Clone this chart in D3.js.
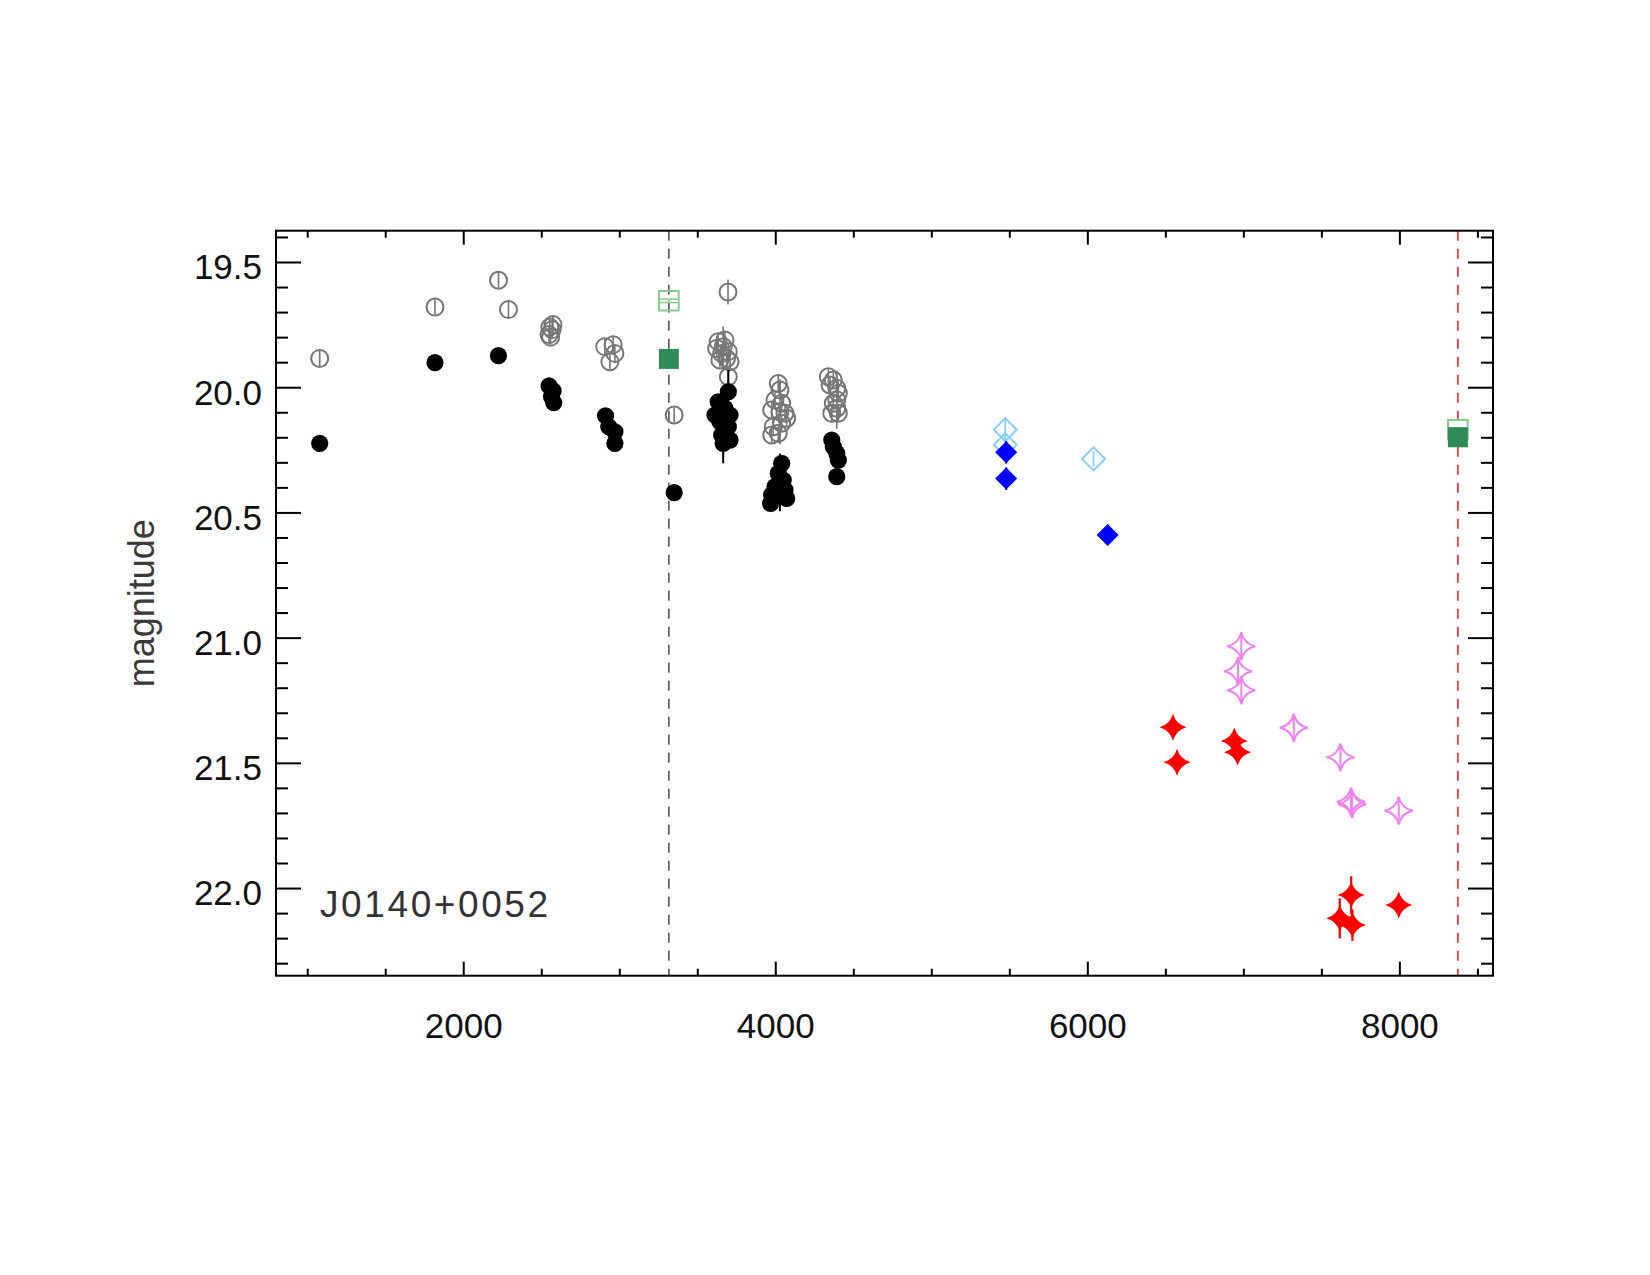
<!DOCTYPE html>
<html>
<head>
<meta charset="utf-8">
<script src="https://cdn.jsdelivr.net/npm/d3@7"></script>
<style>
  html, body { margin: 0; padding: 0; background: #fff; }
  svg text { font-family: "Liberation Sans", Arial, Helvetica, sans-serif; }
</style>
</head>
<body>
<svg id="chart" width="1650" height="1275"></svg>
<script>
// ---------------- DATA ----------------
// each entry: [time, magnitude, error]
const grayOpenCircles = [
  [1080, 19.885, 0.03], [1819, 19.68, 0.03], [2226, 19.573, 0.03], [2290, 19.69, 0.03],
  [2555, 19.76, 0.03], [2575, 19.75, 0.03], [2550, 19.79, 0.03], [2560, 19.80, 0.03], [2570, 19.77, 0.03],
  [2907, 19.838, 0.03], [2961, 19.83, 0.03], [2972, 19.865, 0.03], [2940, 19.898, 0.03],
  [3352, 20.111, 0.03], [3697, 19.62, 0.05],
  [3634, 19.818, 0.03], [3677, 19.811, 0.03], [3624, 19.845, 0.03], [3666, 19.838, 0.08],
  [3656, 19.865, 0.03], [3699, 19.858, 0.03], [3688, 19.885, 0.03], [3645, 19.891, 0.03],
  [3710, 19.898, 0.03], [3699, 19.958, 0.03],
  [4019, 19.985, 0.03], [4030, 20.011, 0.03], [3998, 20.051, 0.03], [4041, 20.064, 0.03],
  [3977, 20.091, 0.03], [4062, 20.104, 0.03], [4030, 20.098, 0.13], [4073, 20.124, 0.03],
  [3987, 20.158, 0.03], [4041, 20.144, 0.03], [3977, 20.191, 0.03], [4019, 20.184, 0.03],
  [4340, 19.958, 0.03], [4372, 19.971, 0.03], [4351, 19.991, 0.03], [4394, 20.004, 0.03],
  [4404, 20.024, 0.03], [4394, 20.05, 0.116], [4372, 20.064, 0.03], [4394, 20.084, 0.03],
  [4362, 20.104, 0.03], [4404, 20.104, 0.03]
];
const blackFilledCircles = [
  [1080, 20.224, 0.02], [1819, 19.902, 0.02], [2226, 19.874, 0.02],
  [2550, 19.995, 0.02], [2576, 20.014, 0.02], [2566, 20.038, 0.02], [2580, 20.062, 0.02],
  [2912, 20.114, 0.02], [2933, 20.158, 0.02], [2972, 20.178, 0.02], [2972, 20.224, 0.02],
  [3352, 20.421, 0.02],
  [3699, 20.018, 0.087], [3634, 20.058, 0.03], [3677, 20.084, 0.03], [3613, 20.111, 0.03],
  [3710, 20.111, 0.03], [3645, 20.138, 0.03], [3699, 20.158, 0.03], [3656, 20.191, 0.03],
  [3710, 20.211, 0.03], [3666, 20.224, 0.08],
  [4041, 20.304, 0.03], [4019, 20.344, 0.03], [4051, 20.371, 0.03], [4030, 20.38, 0.115],
  [3998, 20.397, 0.03], [4062, 20.41, 0.03], [3977, 20.43, 0.03], [4030, 20.437, 0.03],
  [3970, 20.464, 0.03], [4073, 20.444, 0.03],
  [4362, 20.211, 0.03], [4372, 20.238, 0.03], [4394, 20.264, 0.03], [4404, 20.291, 0.03],
  [4394, 20.357, 0.03]
];
const greenOpenSquares = [[3318, 19.655, 0.007], [8375, 20.17, 0.007]];
const greenFilledSquares = [[3318, 19.887, 0.01], [8375, 20.20, 0.01]];
const lightBlueOpenDiamonds = [[5474, 20.17, 0.05], [5474, 20.23, 0.03], [6040, 20.286, 0.03]];
const blueFilledDiamonds = [[5480, 20.26, 0.045], [5480, 20.365, 0.045], [6130, 20.59, 0.02]];
const violetOpenStars = [
  [6987, 21.034, 0.05], [6966, 21.134, 0.05], [6987, 21.21, 0.05], [7323, 21.36, 0.05],
  [7622, 21.478, 0.05], [7690, 21.655, 0.05], [7697, 21.665, 0.05], [7996, 21.691, 0.04]
];
const redFilledStars = [
  [6549, 21.358, 0.04], [6575, 21.498, 0.04], [6942, 21.413, 0.04], [6963, 21.458, 0.04],
  [7691, 22.028, 0.075], [7618, 22.121, 0.08], [7699, 22.148, 0.063], [7996, 22.068, 0.04]
];
const referenceLines = [[3318, "black"], [8375, "red"]];
const xDomain = [800, 8600];
const yDomain = [19.375, 22.35];
const xMajorTicks = [2000, 4000, 6000, 8000];
const xMinorTicks = [1000, 1500, 2500, 3000, 3500, 4500, 5000, 5500, 6500, 7000, 7500, 8500];
const yMajorTicks = [19.5, 20.0, 20.5, 21.0, 21.5, 22.0];
const yMinorTicks = [19.4, 19.6, 19.7, 19.8, 19.9, 20.1, 20.2, 20.3, 20.4, 20.6, 20.7, 20.8, 20.9,
                     21.1, 21.2, 21.3, 21.4, 21.6, 21.7, 21.8, 21.9, 22.1, 22.2, 22.3];
const yLabel = "magnitude";
const objectName = "J0140+0052";

// ---------------- LAYOUT ----------------
const L = 276, R = 1493, T = 230.7, B = 975.7;
const svg = d3.select("#chart");
const x = d3.scaleLinear().domain(xDomain).range([L, R]);
const y = d3.scaleLinear().domain(yDomain).range([T, B]);

// reference dashed lines
const lineColors = { black: "#555555", red: "#ff2020" };
svg.append("g").selectAll("line").data(referenceLines).join("line")
  .attr("x1", d => x(d[0])).attr("x2", d => x(d[0]))
  .attr("y1", T).attr("y2", B)
  .attr("stroke", d => lineColors[d[1]])
  .attr("stroke-width", 1.6)
  .attr("stroke-dasharray", "10,8");

// marker shapes
function starPath(Rr, f) {
  const k = f * Rr;
  return `M0,${-Rr} Q${k},${-k} ${Rr},0 Q${k},${k} 0,${Rr} Q${-k},${k} ${-Rr},0 Q${-k},${-k} 0,${-Rr} Z`;
}
function diamondPath(h) { return `M0,${-h} L${h},0 L0,${h} L${-h},0 Z`; }
function squarePath(h) { return `M${-h},${-h} H${h} V${h} H${-h} Z`; }

function drawSeries(data, opts) {
  const g = svg.append("g");
  g.selectAll("line.err").data(data).join("line")
    .attr("class", "err")
    .attr("x1", d => x(d[0])).attr("x2", d => x(d[0]))
    .attr("y1", d => y(d[1] - d[2])).attr("y2", d => y(d[1] + d[2]))
    .attr("stroke", opts.color).attr("stroke-width", opts.errWidth || 2);
  if (opts.caps) {
    ["-", "+"].forEach(s => {
      g.selectAll("line.cap" + (s === "-" ? "a" : "b")).data(data).join("line")
        .attr("x1", d => x(d[0]) - opts.caps).attr("x2", d => x(d[0]) + opts.caps)
        .attr("y1", d => y(s === "-" ? d[1] - d[2] : d[1] + d[2]))
        .attr("y2", d => y(s === "-" ? d[1] - d[2] : d[1] + d[2]))
        .attr("stroke", opts.color).attr("stroke-width", 1.5);
    });
  }
  const sel = g.selectAll("path.m").data(data).join("path")
    .attr("class", "m")
    .attr("transform", d => `translate(${x(d[0])},${y(d[1])})`)
    .attr("d", opts.path);
  if (opts.filled) {
    sel.attr("fill", opts.color).attr("stroke", "none");
  } else {
    sel.attr("fill", "none").attr("stroke", opts.color).attr("stroke-width", opts.strokeWidth || 2);
  }
}

const circle = r => `M${r},0 A${r},${r} 0 1,1 ${-r},0 A${r},${r} 0 1,1 ${r},0 Z`;

drawSeries(grayOpenCircles, { color: "#767676", path: circle(8.5), filled: false, errWidth: 1.6, strokeWidth: 2 });
drawSeries(blackFilledCircles, { color: "#000000", path: circle(8.6), filled: true, errWidth: 2 });
drawSeries(greenOpenSquares, { color: "#8cc98c", path: squarePath(9.8), filled: false, caps: 9.8, errWidth: 1.5, strokeWidth: 2 });
drawSeries(greenFilledSquares, { color: "#2e8b57", path: squarePath(10), filled: true });
drawSeries(lightBlueOpenDiamonds, { color: "#87cefa", path: diamondPath(11.5), filled: false, errWidth: 1.8, strokeWidth: 2 });
drawSeries(blueFilledDiamonds, { color: "#0000ff", path: diamondPath(11), filled: true, errWidth: 2 });
drawSeries(violetOpenStars, { color: "#ee82ee", path: starPath(14, 0.17), filled: false, errWidth: 2, strokeWidth: 2 });
drawSeries(redFilledStars, { color: "#ff0000", path: starPath(13.5, 0.22), filled: true, errWidth: 2.2 });

// ---------------- AXES ----------------
const fontSize = 35;
function styleAxis(g) {
  g.select(".domain").remove();
  g.selectAll(".tick line").attr("stroke", "#000").attr("stroke-width", 2);
  g.selectAll("text").attr("fill", "#111").attr("font-size", fontSize)
    .attr("font-family", "'Liberation Sans', Arial, sans-serif");
}
svg.append("g").attr("transform", `translate(0,${B})`)
  .call(d3.axisBottom(x).tickValues(xMajorTicks).tickFormat(d3.format("d")).tickSize(-14).tickPadding(37.4).tickSizeOuter(0))
  .call(styleAxis);
svg.append("g").attr("transform", `translate(0,${B})`)
  .call(d3.axisBottom(x).tickValues(xMinorTicks).tickFormat("").tickSize(-7).tickSizeOuter(0))
  .call(styleAxis);
svg.append("g").attr("transform", `translate(0,${T})`)
  .call(d3.axisTop(x).tickValues(xMajorTicks).tickFormat("").tickSize(-14).tickSizeOuter(0))
  .call(styleAxis);
svg.append("g").attr("transform", `translate(0,${T})`)
  .call(d3.axisTop(x).tickValues(xMinorTicks).tickFormat("").tickSize(-7).tickSizeOuter(0))
  .call(styleAxis);
const leftMajor = svg.append("g").attr("transform", `translate(${L},0)`)
  .call(d3.axisLeft(y).tickValues(yMajorTicks).tickFormat(d3.format(".1f")).tickSize(-25).tickPadding(14).tickSizeOuter(0))
  .call(styleAxis);
leftMajor.selectAll("text").attr("dy", "0.48em");
svg.append("g").attr("transform", `translate(${L},0)`)
  .call(d3.axisLeft(y).tickValues(yMinorTicks).tickFormat("").tickSize(-12).tickSizeOuter(0))
  .call(styleAxis);
svg.append("g").attr("transform", `translate(${R},0)`)
  .call(d3.axisRight(y).tickValues(yMajorTicks).tickFormat("").tickSize(-25).tickSizeOuter(0))
  .call(styleAxis);
svg.append("g").attr("transform", `translate(${R},0)`)
  .call(d3.axisRight(y).tickValues(yMinorTicks).tickFormat("").tickSize(-12).tickSizeOuter(0))
  .call(styleAxis);

svg.append("rect").attr("x", L).attr("y", T).attr("width", R - L).attr("height", B - T)
  .attr("fill", "none").attr("stroke", "#000").attr("stroke-width", 2);

svg.append("text")
  .attr("transform", `translate(154,${(T + B) / 2}) rotate(-90)`)
  .attr("text-anchor", "middle")
  .attr("font-size", 36)
  .attr("fill", "#3a3a3a")
  .text(yLabel);

svg.append("text")
  .attr("x", 320).attr("y", 916.5)
  .attr("font-size", 37)
  .attr("letter-spacing", 2.6)
  .attr("fill", "#333")
  .text(objectName);
</script>
</body>
</html>
